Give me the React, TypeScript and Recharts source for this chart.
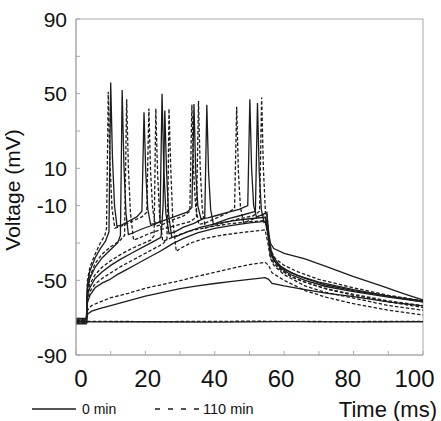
import React from "react";
import { LineChart, Line, XAxis, YAxis, ReferenceArea } from "recharts";

// Membrane voltage responses to depolarising current steps (step on ~3 ms, off ~55 ms).
// Each trace is a list of [time (ms), voltage (mV)] samples.

const xTicks = [0, 10, 20, 30, 40, 50, 60, 70, 80, 90, 100];
const xLabelled = [0, 20, 40, 60, 80, 100];
const yTicks = [-90, -70, -50, -30, -10, 10, 30, 50, 70, 90];
const yLabelled = [-90, -50, -10, 10, 50, 90];

// 0 min (solid)
const solidRest: [number, number][] = [
  [0, -73.3], [3, -73.3], [3.2, -72.3], [20, -72.2], [40, -72.4], [60, -72.1], [80, -72.3], [100, -72.2],
];
const solidStep1: [number, number][] = [
  [0, -71.2], [3, -71.2], [3.4, -68], [4.5, -66.5], [7, -65], [10, -63.5], [15, -61], [20, -58.5],
  [25, -56.5], [30, -54.5], [35, -53], [40, -51.7], [45, -50.6], [50, -49.5], [54.5, -48.6],
  [55.5, -49.5], [56.5, -51.6], [60, -53], [66, -55], [72, -56.8], [80, -58.7], [90, -61.5], [100, -63.7],
];
const solidStep2: [number, number][] = [
  [0, -70.4], [3, -70.4], [3.3, -62], [4, -58], [5.5, -54], [7.5, -51.5], [9.5, -49.8], [12, -46.8],
  [14.3, -44.5], [17, -41.8], [19.2, -39.5], [22, -36.7], [24, -34.7], [26, -32.5], [28, -30.2],
  [31, -27.5], [35, -24.6], [40, -22.2], [45, -20.5], [50, -19.2], [54.5, -18.4], [55.3, -25],
  [56, -34], [57, -39], [59, -43.5], [62, -47], [66, -50], [72, -53.3], [80, -56], [90, -59], [100, -61.5],
];
const solidStep3: [number, number][] = [
  [0, -72.9], [3, -72.9], [3.3, -58], [4, -54], [5.5, -49], [7.5, -45.5], [10, -42], [13, -38.5],
  [16, -35.5], [19, -32.5], [22, -29.5], [24.5, -27], [25.1, -10], [25.6, 41], [26.1, 8], [26.7, -15],
  [27.6, -27], [29, -26.5], [32, -24], [36, -21.5], [40, -19.8], [45, -18.2], [50, -17], [54.5, -16.2],
  [55.3, -24], [56, -33], [57, -38], [59, -42.5], [62, -46], [66, -49], [72, -52.5], [80, -55.5],
  [90, -58.5], [100, -61],
];
const solidStep4: [number, number][] = [
  [0, -71.8], [3, -71.8], [3.3, -55], [4, -49], [5.5, -43], [7.5, -38], [10, -33.5], [12, -30],
  [12.8, -26], [13.3, 52], [13.8, 12], [14.4, -14], [15.1, -25.5], [16.5, -24.5], [19, -22.5],
  [22, -20.5], [24.2, -18.5], [24.8, 50], [25.3, 10], [25.9, -14], [26.8, -25], [28.5, -24],
  [31, -21.5], [34, -19.5], [37.1, -16.5], [37.7, 44], [38.2, 8], [38.8, -12], [39.6, -20], [41, -19],
  [44, -17], [48, -15], [51.7, -13], [52.3, 45], [52.8, 8], [53.4, -12], [54.2, -19], [55, -18],
  [55.6, -28], [56.2, -36], [57.5, -40.5], [60, -44], [64, -47.5], [70, -51], [80, -55], [90, -58.5],
  [100, -61.5],
];
const solidStep5: [number, number][] = [
  [0, -72.2], [3, -72.2], [3.3, -52], [4, -45], [5.5, -38], [7, -33], [8.5, -29], [9.5, -24], [10, 56],
  [10.5, 16], [11.1, -10], [11.8, -21], [13, -20.5], [15, -18.5], [17.5, -16], [19, -13], [19.6, 40],
  [20.1, 8], [20.7, -12], [21.5, -20], [23, -19.5], [26, -17.5], [29, -15.5], [32, -13.5], [33.4, -11],
  [34, 44.5], [34.5, 8], [35.1, -10], [36, -17], [38, -16.5], [41, -15], [44, -13.5], [47, -12],
  [49.5, -10], [50.1, 47], [50.6, 10], [51.2, -10], [52, -16], [53.5, -15], [55, -13.5], [55.5, -24],
  [56, -30], [57, -33], [60, -35.5], [66, -38.5], [72, -42.5], [80, -48], [88, -53], [95, -57.5],
  [100, -60.5],
];

// 110 min (dashed)
const dashedRest: [number, number][] = [
  [0, -72], [25, -72.1], [50, -71.9], [75, -72.1], [100, -72],
];
const dashedStep1: [number, number][] = [
  [0, -73], [3, -73], [3.3, -66], [4.5, -63.5], [7, -61.5], [10, -59.3], [15, -57], [20, -54.2],
  [25, -52.2], [30, -50.2], [35, -47.8], [40, -45.7], [45, -43.5], [50, -41.6], [54.5, -40.3],
  [55.5, -42], [56.5, -46], [60, -50], [66, -55.5], [72, -59], [80, -62.5], [90, -66], [100, -68.5],
];
const dashedStep2: [number, number][] = [
  [0, -70.8], [3, -70.8], [3.3, -60], [4, -56], [5.5, -52], [7.5, -49], [10, -46], [13, -42.5],
  [16, -39.5], [19, -36.5], [22, -33.5], [25, -30.5], [26.2, -28], [26.5, -5], [26.8, 42], [27.3, 10],
  [27.9, -18], [28.9, -34.5], [30, -33], [33, -30], [37, -27.6], [42, -25.8], [48, -24.3], [54.5, -23],
  [55.3, -30], [56, -38], [57, -42], [60, -47], [66, -53], [72, -56.5], [80, -59.5], [90, -63.5],
  [100, -66],
];
const dashedStep3: [number, number][] = [
  [0, -71.5], [3, -71.5], [3.3, -57], [4, -52], [5.5, -47], [7.5, -43], [10, -39.5], [13, -36], [16, -33],
  [19, -30.5], [21.5, -28.5], [22.5, -26], [23, 42], [23.5, 8], [24.1, -16], [25, -29], [26.5, -28],
  [29, -26], [33, -23.5], [38, -21.5], [44, -19.8], [50, -18.6], [54.5, -18], [55.3, -25], [56, -34],
  [57, -39.5], [59, -44], [62, -48], [66, -51], [72, -54.5], [80, -57.5], [90, -61], [100, -63.5],
];
const dashedStep4: [number, number][] = [
  [0, -72.6], [3, -72.6], [3.3, -54], [4, -48], [5.5, -41], [7.5, -36], [10, -32], [12.5, -29],
  [14, -26], [14.6, 47], [15.1, 10], [15.7, -14], [16.6, -28.5], [18, -27.5], [21, -25], [25, -22.5],
  [29, -20.5], [33, -18.5], [34.7, -16], [35.3, 46], [35.8, 10], [36.4, -12], [37.3, -22], [39, -21],
  [43, -19], [47, -17], [51, -15.5], [52.9, -13], [53.5, 48], [54, 10], [54.6, -14], [55.3, -26],
  [56, -37], [57, -41], [59, -44.5], [62, -48], [66, -51], [72, -54.5], [80, -58], [90, -61.5],
  [100, -64.5],
];
const dashedStep5: [number, number][] = [
  [0, -71.6], [3, -71.6], [3.3, -50], [4, -43], [5.5, -36], [7, -30], [8.3, -26], [8.8, -22], [9.3, 51],
  [9.8, 12], [10.4, -12], [11.2, -22], [13, -21], [16, -18.5], [19, -16], [20.4, -13.5], [21, 42],
  [21.5, 8], [22.1, -12], [23, -21], [25, -20], [28, -17.5], [31, -15.5], [32.8, -13], [33.4, 44],
  [33.9, 8], [34.5, -11], [35.4, -20], [37, -19.5], [40, -17], [43, -14.5], [45.7, -11.5], [46.3, 43],
  [46.8, 8], [47.4, -11], [48.3, -19], [50, -18], [53, -15.5], [55, -14.5], [55.6, -26], [56.3, -34.5],
  [57.5, -38.5], [60, -42], [64, -45.5], [70, -49.5], [80, -54], [90, -58], [100, -61],
];

const traces = [
  { id: "s0", pts: solidRest, dashed: false },
  { id: "d0", pts: dashedRest, dashed: true },
  { id: "d1", pts: dashedStep1, dashed: true },
  { id: "s1", pts: solidStep1, dashed: false },
  { id: "d2", pts: dashedStep2, dashed: true },
  { id: "s2", pts: solidStep2, dashed: false },
  { id: "d3", pts: dashedStep3, dashed: true },
  { id: "s3", pts: solidStep3, dashed: false },
  { id: "d4", pts: dashedStep4, dashed: true },
  { id: "s4", pts: solidStep4, dashed: false },
  { id: "d5", pts: dashedStep5, dashed: true },
  { id: "s5", pts: solidStep5, dashed: false },
];

const FONT = '"Liberation Sans", Arial, sans-serif';
const AXIS = "#a8a8a8";
const INK = "#1c1c1c";

// tick marks point into the plot; labels sit slightly inside the outer ticks
const XTick = (props: any) => {
  const { x, y, payload } = props;
  const lx = x + 5 - (x - 76) * 0.039;
  return (
    <g>
      <line x1={x} y1={y} x2={x} y2={y - 4} stroke={AXIS} />
      {xLabelled.includes(payload.value) && (
        <text x={lx} y={y + 32} textAnchor="middle" fontSize={24} fontFamily={FONT} fill="#111">
          {payload.value}
        </text>
      )}
    </g>
  );
};

const YTick = (props: any) => {
  const { x, y, payload } = props;
  return (
    <g>
      <line x1={x} y1={y} x2={x + 4} y2={y} stroke={AXIS} />
      {yLabelled.includes(payload.value) && (
        <text x={x - 9} y={y + 7.5} textAnchor="end" fontSize={21} fontFamily={FONT} fill="#111">
          {payload.value}
        </text>
      )}
    </g>
  );
};

export default function App() {
  return (
    <div style={{ position: "absolute", left: 0, top: 0, width: 441, height: 421, background: "#fff" }}>
      <LineChart width={441} height={421} margin={{ top: 19, right: 18, bottom: 36, left: 16 }}>
        <XAxis
          type="number"
          dataKey="t"
          domain={[0, 100]}
          ticks={xTicks}
          interval={0}
          tickSize={0}
          tickMargin={0}
          height={30}
          stroke={AXIS}
          tick={<XTick />}
          allowDataOverflow
        />
        <YAxis
          type="number"
          dataKey="v"
          domain={[-90, 90]}
          ticks={yTicks}
          interval={0}
          tickSize={0}
          tickMargin={0}
          width={60}
          stroke={AXIS}
          tick={<YTick />}
          allowDataOverflow
        />
        <ReferenceArea x1={0} x2={100} y1={-90} y2={90} fill="none" stroke={AXIS} strokeWidth={1} />
        {traces.map((tr) => (
          <Line
            key={tr.id}
            data={tr.pts.map(([t, v]) => ({ t, v }))}
            dataKey="v"
            type="linear"
            stroke={INK}
            strokeWidth={1.3}
            strokeDasharray={tr.dashed ? "3.5 2" : undefined}
            dot={false}
            activeDot={false}
            isAnimationActive={false}
          />
        ))}
      </LineChart>
      <svg
        width={441}
        height={421}
        style={{ position: "absolute", left: 0, top: 0, pointerEvents: "none" }}
        fontFamily={FONT}
      >
        <text
          transform="translate(20,190) rotate(-90)"
          textAnchor="middle"
          fontSize={21}
          fill="#111"
        >
          Voltage (mV)
        </text>
        <text x={437} y={417} textAnchor="end" fontSize={22} fill="#111">
          Time (ms)
        </text>
        <line x1={32} y1={409} x2={76} y2={409} stroke={INK} strokeWidth={1.3} />
        <text x={82} y={414} fontSize={14} fill="#111">0 min</text>
        <line x1={155} y1={409} x2={200} y2={409} stroke={INK} strokeWidth={1.3} strokeDasharray="5 8" />
        <text x={203} y={414} fontSize={14.5} fill="#111">110 min</text>
      </svg>
    </div>
  );
}
